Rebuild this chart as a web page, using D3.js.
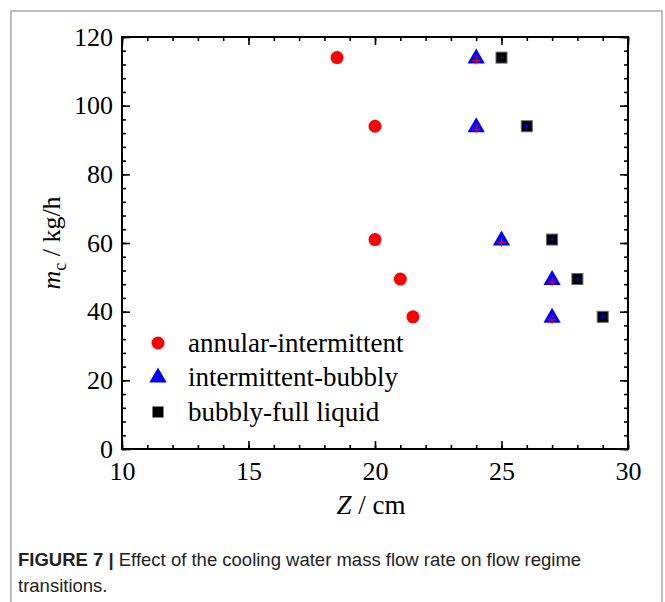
<!DOCTYPE html>
<html>
<head>
<meta charset="utf-8">
<script src="https://cdn.jsdelivr.net/npm/d3@7"></script>
<style>
body{margin:0;background:#fff;}
svg text{font-family:"Liberation Serif","Times New Roman",serif;}
.cap{font-family:"Liberation Sans",Arial,sans-serif;}
</style>
</head>
<body>
<div id="chart"></div>
<script>
// Z / cm and m_c / kg/h
var annularZ = [18.5, 20, 20, 21, 21.5];
var annularM = [114, 94, 61, 49.5, 38.5];
var bubblyZ = [24, 24, 25, 27, 27];
var bubblyM = [114, 94, 61, 49.5, 38.5];
var liquidZ = [25, 26, 27, 28, 29];
var liquidM = [114, 94, 61, 49.5, 38.5];
var xTicks = [10, 15, 20, 25, 30];
var yTicks = [0, 20, 40, 60, 80, 100, 120];
var legendNames = ['annular-intermittent', 'intermittent-bubbly', 'bubbly-full liquid'];

var W = 665, H = 602;
var m = {l:122, r:628, t:37, b:449};

var svg = d3.select('#chart').append('svg')
	.attr('width', W).attr('height', H);

// outer frame of the figure panel
svg.append('rect')
	.attr('x', 11).attr('y', 11).attr('width', 651).attr('height', 620)
	.attr('fill', 'none').attr('stroke', '#aaa').attr('stroke-width', 1.5);

var x = d3.scaleLinear().domain([10, 30]).range([m.l, m.r]);
var y = d3.scaleLinear().domain([0, 120]).range([m.b, m.t]);

function zip(a, b){ return a.map(function(v, i){ return {z:v, m:b[i]}; }); }

var xMinor = d3.range(10, 30.01, 1);
var yMinor = d3.range(0, 120.01, 4);

// ticks: major + minor, all pointing inward, on all four sides
function drawAxis(gen, tr, vals, size, labels){
	var g = svg.append('g').attr('transform', tr)
		.call(gen.tickValues(vals).tickSizeInner(size).tickSizeOuter(0)
			.tickFormat(labels ? d3.format('d') : ''));
	g.select('.domain').remove();
	g.selectAll('line').attr('stroke', '#000').attr('stroke-width', 1.6);
	return g;
}

// bottom
drawAxis(d3.axisBottom(x), 'translate(0,'+m.b+')', xMinor, -4, false);
var gb = drawAxis(d3.axisBottom(x), 'translate(0,'+m.b+')', xTicks, -8, true);
gb.selectAll('text').attr('font-size', 26).attr('dy', 0).attr('y', 31).attr('fill', '#000');
// top
drawAxis(d3.axisTop(x), 'translate(0,'+m.t+')', xMinor, -4, false);
drawAxis(d3.axisTop(x), 'translate(0,'+m.t+')', xTicks, -8, false);
// left
drawAxis(d3.axisLeft(y), 'translate('+m.l+',0)', yMinor, -4, false);
var gl = drawAxis(d3.axisLeft(y), 'translate('+m.l+',0)', yTicks, -8, true);
gl.selectAll('text').attr('font-size', 26).attr('x', -9).attr('dy', '0.32em').attr('fill', '#000');
// right
drawAxis(d3.axisRight(y), 'translate('+m.r+',0)', yMinor, -4, false);
drawAxis(d3.axisRight(y), 'translate('+m.r+',0)', yTicks, -8, false);

svg.append('rect')
	.attr('x', m.l).attr('y', m.t).attr('width', m.r - m.l).attr('height', m.b - m.t)
	.attr('fill', 'none').attr('stroke', '#000').attr('stroke-width', 2);

// axis titles
svg.append('text')
	.attr('x', 371).attr('y', 514)
	.attr('text-anchor', 'middle').attr('font-size', 27)
	.html('<tspan font-style="italic">Z</tspan> / cm');

svg.append('text')
	.attr('transform', 'translate(60,' + ((m.t + m.b) / 2) + ') rotate(-90)')
	.attr('text-anchor', 'middle').attr('font-size', 26)
	.html('<tspan font-style="italic">m</tspan><tspan font-size="18" dy="6">c</tspan><tspan dy="-6"> / kg/h</tspan>');

// markers
var tri = d3.symbol().type(d3.symbolTriangle).size(130);

svg.selectAll('.annular')
	.data(zip(annularZ, annularM)).enter()
	.append('circle')
		.attr('class', 'annular')
		.attr('cx', function(d){ return x(d.z); })
		.attr('cy', function(d){ return y(d.m); })
		.attr('r', 6.5)
		.attr('fill', '#ff0000');

var bub = svg.selectAll('.bubbly')
	.data(zip(bubblyZ, bubblyM)).enter()
	.append('g')
		.attr('class', 'bubbly')
		.attr('transform', function(d){ return 'translate(' + x(d.z) + ',' + y(d.m) + ')'; });
bub.append('path').attr('d', tri).attr('transform', 'translate(0,1)').attr('fill', '#0000ff');
bub.append('path').attr('d', 'M-4,3H4M0,-2V7').attr('stroke', '#ff0000').attr('stroke-width', 1);

var liq = svg.selectAll('.liquid')
	.data(zip(liquidZ, liquidM)).enter()
	.append('g')
		.attr('class', 'liquid')
		.attr('transform', function(d){ return 'translate(' + x(d.z) + ',' + y(d.m) + ')'; });
liq.append('rect').attr('x', -5.5).attr('y', -5.5).attr('width', 11).attr('height', 11)
	.attr('fill', '#000').attr('stroke', '#666').attr('stroke-width', 1);
liq.append('path').attr('d', 'M-3,0H3M0,-3V3').attr('stroke', '#0000ff').attr('stroke-width', 1);

// legend
var lg = svg.append('g').attr('transform', 'translate(158,343)');
var rows = lg.selectAll('.row').data(legendNames).enter()
	.append('g').attr('transform', function(d, i){ return 'translate(0,' + (i * 34.5) + ')'; });
rows.filter(function(d, i){ return i == 0; }).append('circle').attr('r', 6.5).attr('fill', '#ff0000');
rows.filter(function(d, i){ return i == 1; }).append('path').attr('d', tri).attr('fill', '#0000ff');
rows.filter(function(d, i){ return i == 2; }).append('rect')
	.attr('x', -5.5).attr('y', -5.5).attr('width', 11).attr('height', 11).attr('fill', '#000');
rows.append('text')
	.attr('x', 30).attr('dy', '0.32em').attr('font-size', 27)
	.text(function(d){ return d; });

// caption
var cap = svg.append('text').attr('class', 'cap').attr('x', 18).attr('y', 566).attr('font-size', 18.5).attr('fill', '#222');
cap.append('tspan').attr('font-weight', 'bold').text('FIGURE 7 | ');
cap.append('tspan').text('Effect of the cooling water mass flow rate on flow regime');
svg.append('text').attr('class', 'cap').attr('x', 18).attr('y', 592).attr('font-size', 18.5).attr('fill', '#222')
	.text('transitions.');
</script>
</body>
</html>
